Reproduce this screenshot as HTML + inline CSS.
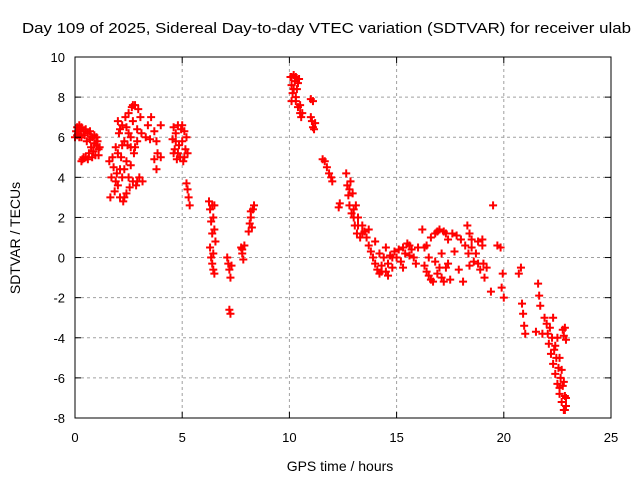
<!DOCTYPE html>
<html><head><meta charset="utf-8"><style>
body{margin:0;background:#fff}
svg{display:block;font-family:"Liberation Sans",sans-serif}
</style></head><body>
<svg id="chart" width="640" height="480" viewBox="0 0 640 480" xmlns="http://www.w3.org/2000/svg">
<text x="22" y="33" font-size="15" textLength="609" lengthAdjust="spacingAndGlyphs">Day 109 of 2025, Sidereal Day-to-day VTEC variation (SDTVAR) for receiver ulab</text>
<g id="grid"></g>
<g id="marks"></g>
<rect x="75" y="57" width="536" height="361" fill="none" stroke="#000" stroke-width="1"/>
<g id="ticks"></g>
<text x="340" y="471" font-size="14" text-anchor="middle">GPS time / hours</text>
<text x="20" y="238" font-size="14" text-anchor="middle" transform="rotate(-90 20 238)">SDTVAR / TECUs</text>
</svg>
<script>
const xTicks=[0,5,10,15,20,25];
const yTicks=[-8,-6,-4,-2,0,2,4,6,8,10];
const gpsHours=[0.05,0.1,0.15,0.2,0.25,0.3,0.35,0.4,0.45,0.5,0.55,0.6,0.65,0.7,0.75,0.8,0.85,0.9,0.95,1.0,1.05,1.1,1.15,0.2,0.3,0.5,0.6,0.9,
1.6,1.65,1.7,1.75,1.8,1.85,1.9,1.95,2.0,2.05,2.1,2.15,2.2,2.25,2.3,2.35,2.4,2.45,2.5,2.55,2.6,2.65,2.7,2.75,2.8,2.85,2.9,2.95,3.0,2.0,2.1,2.2,2.3,2.4,2.6,2.7,2.8,3.05,3.1,3.15,
3.3,3.4,3.5,3.55,3.7,3.8,3.7,3.8,3.85,4.0,4.0,4.55,4.6,4.65,4.7,4.75,4.8,4.85,4.9,4.95,5.0,5.05,5.1,5.15,5.2,5.25,5.2,5.25,5.3,5.35,
6.25,6.3,6.35,6.4,6.3,6.35,6.4,6.45,6.5,6.45,6.5,6.55,6.5,7.1,7.15,7.2,7.25,7.3,7.2,7.25,7.75,7.8,7.85,7.9,8.1,8.15,8.2,8.25,8.3,8.35,
10.05,10.1,10.15,10.2,10.25,10.3,10.35,10.4,10.45,10.5,10.55,10.1,10.3,11.0,11.1,11.0,11.05,11.1,11.15,11.2,11.55,11.65,11.75,11.85,11.95,12.0,12.3,12.35,
12.65,12.7,12.75,12.8,12.85,12.9,12.95,13.0,13.05,13.1,13.15,13.2,13.3,13.4,13.5,13.6,13.7,13.8,13.9,14.0,14.1,14.2,14.3,14.4,14.5,14.6,14.7,14.8,14.9,15.0,13.7,14.0,14.2,14.5,
15.1,15.2,15.3,15.4,15.5,15.6,15.7,15.8,15.9,16.0,16.2,16.3,16.4,16.5,16.6,16.7,16.8,16.9,17.0,17.1,17.2,17.3,17.4,17.5,16.5,16.8,17.1,17.4,
17.6,17.7,17.8,17.9,18.0,18.1,18.2,18.3,18.35,18.4,18.5,18.6,18.7,18.8,18.9,19.0,19.05,19.1,19.2,19.4,19.5,19.7,19.85,19.9,20.0,19.95,
20.7,20.8,20.85,20.9,20.95,21.0,21.5,21.6,21.65,21.7,21.8,21.9,22.0,22.05,22.1,22.15,22.2,22.25,22.3,22.35,22.4,22.45,22.5,22.55,22.6,22.65,22.7,22.75,22.8,22.85,22.9,22.75,22.8,22.9,22.85,
0.0,0.1,0.3,0.4,0.7,0.8,1.0,1.1,2.3,2.4,2.5,2.6,2.7,2.9,2.2,2.1,1.9,2.0,2.5,2.9,4.6,4.8,5.0,5.1,4.7,6.4,6.45,7.8,8.2,
10.1,10.2,10.3,10.4,10.5,10.6,12.8,13.0,13.2,13.4,14.3,14.6,14.8,15.3,15.6,16.4,16.6,16.9,17.2,17.3,17.0,16.3,18.5,18.8,18.4,19.0,
22.3,22.5,22.6,22.7,22.8,22.9,22.85,22.6,22.4];
const sdtvar=[6.3,6.5,6.2,6.0,6.4,4.8,4.9,6.3,6.1,5.0,5.8,6.2,5.2,5.9,5.5,6.0,5.3,5.7,5.1,5.6,5.8,5.4,5.5,6.6,6.0,6.4,4.9,6.1,
4.8,3.0,4.0,5.0,4.5,3.3,5.5,4.2,3.6,6.2,3.0,5.0,6.6,2.8,4.4,7.0,3.2,5.6,7.2,3.5,6.0,7.5,3.8,5.2,7.6,3.6,6.4,7.4,4.0,5.2,6.4,4.0,5.8,6.5,4.6,6.8,5.5,7.0,6.2,3.8,
6.0,6.6,5.9,7.0,6.3,5.8,4.9,4.4,5.2,6.6,5.0,5.9,6.5,5.4,6.2,4.9,6.6,5.6,5.0,6.4,5.8,4.8,6.3,5.4,6.0,5.2,3.7,3.4,3.0,2.6,
2.8,2.4,1.8,1.2,0.5,0.0,-0.3,-0.6,-0.8,2.0,1.4,0.8,2.6,0.0,-0.3,-0.6,-1.0,-0.4,-2.6,-2.8,0.5,0.2,-0.1,0.6,1.3,1.7,2.0,1.5,2.4,2.6,
9.0,8.6,8.2,9.1,8.8,7.8,8.4,7.5,8.9,7.2,7.0,7.8,9.0,7.9,7.8,7.0,6.8,6.5,6.4,6.7,4.9,4.8,4.5,4.2,4.0,3.8,2.5,2.7,
4.2,3.6,3.1,2.6,3.8,2.2,3.2,2.0,1.6,2.6,1.2,2.0,1.0,1.6,1.3,1.0,0.6,0.3,0.0,-0.3,-0.6,-0.8,-0.4,0.0,-0.7,-0.3,0.1,-0.5,0.3,0.0,1.4,0.8,0.2,0.5,
0.4,-0.2,0.5,0.2,0.7,0.1,0.4,0.0,-0.3,0.5,1.4,-0.4,0.6,-0.9,1.0,-1.2,1.2,-0.8,1.4,-1.0,1.3,-0.5,0.9,-1.1,0.0,-0.2,0.2,-0.3,
1.2,0.3,1.1,-0.6,0.9,-1.2,0.6,1.6,0.2,-0.4,0.9,-0.2,0.2,0.8,-0.6,0.6,-0.3,-1.0,-0.5,-1.7,2.6,0.6,0.5,-1.5,-2.0,-0.8,
-0.8,-0.5,-2.3,-2.8,-3.4,-3.8,-3.7,-1.3,-1.9,-2.4,-3.8,-3.0,-3.3,-3.8,-4.3,-3.5,-4.8,-4.0,-5.3,-4.6,-5.8,-5.0,-6.3,-5.5,-6.8,-6.0,-7.2,-6.4,-7.6,-6.9,-7.4,-3.6,-3.9,-4.1,-3.5,
6.0,6.1,6.5,5.0,6.3,5.0,6.0,5.1,3.0,4.8,4.0,5.5,7.6,5.8,5.6,4.4,3.8,6.8,6.2,3.8,5.2,5.2,6.6,5.0,5.8,2.6,0.2,0.4,2.3,
9.0,8.4,8.0,8.7,7.6,7.2,3.4,2.4,1.6,1.2,-0.7,-0.9,0.0,-0.5,0.6,-0.7,-1.1,1.3,-1.2,1.2,-0.5,0.5,0.5,-0.3,1.2,0.9,
-3.0,-4.0,-5.0,-5.6,-6.2,-7.0,-7.6,-6.5,-4.4];

const NS="http://www.w3.org/2000/svg";
const L=75,R=611,T=57,B=418;
function xs(v){return L+(v-0)/(25-0)*(R-L);}
function ys(v){return B-(v+8)/(10+8)*(B-T);}
const grid=document.getElementById('grid'),ticks=document.getElementById('ticks'),marks=document.getElementById('marks');
function mk(tag,attrs,parent){const e=document.createElementNS(NS,tag);for(const k in attrs)e.setAttribute(k,attrs[k]);parent.appendChild(e);return e;}
xTicks.forEach(t=>{
  const x=xs(t);
  if(t>0&&t<25){const g=mk('line',{x1:x,x2:x,y1:T,y2:B,stroke:'#a0a0a0','stroke-dasharray':'3,3'},grid);
  
  }
  const a=mk('line',{x1:x,x2:x,y1:B,y2:B-6,stroke:'#000'},ticks);
  
  
  const b=mk('line',{x1:x,x2:x,y1:T,y2:T+6,stroke:'#000'},ticks);
  
  
  const tx=mk('text',{x:x,y:B+24,'font-size':13,'text-anchor':'middle'},ticks);tx.textContent=t;
  
  
});
yTicks.forEach(t=>{
  const y=ys(t);
  if(t>-8&&t<10){const g=mk('line',{x1:L,x2:R,y1:y,y2:y,stroke:'#a0a0a0','stroke-dasharray':'3,3'},grid);
  
  }
  const a=mk('line',{x1:L,x2:L+6,y1:y,y2:y,stroke:'#000'},ticks);
  
  
  const b=mk('line',{x1:R,x2:R-6,y1:y,y2:y,stroke:'#000'},ticks);
  
  
  const tx=mk('text',{x:L-10,y:y+5,'font-size':13,'text-anchor':'end'},ticks);tx.textContent=t;
  
  
});
for(let i=0;i<gpsHours.length;i++){
  const x=xs(gpsHours[i]),y=ys(sdtvar[i]);
  const p=mk('path',{d:`M${x-4} ${y}H${x+4}M${x} ${y-4}V${y+4}`,stroke:'#ff0000','stroke-width':2,fill:'none'},marks);
  
  
}
</script>
</body></html>
